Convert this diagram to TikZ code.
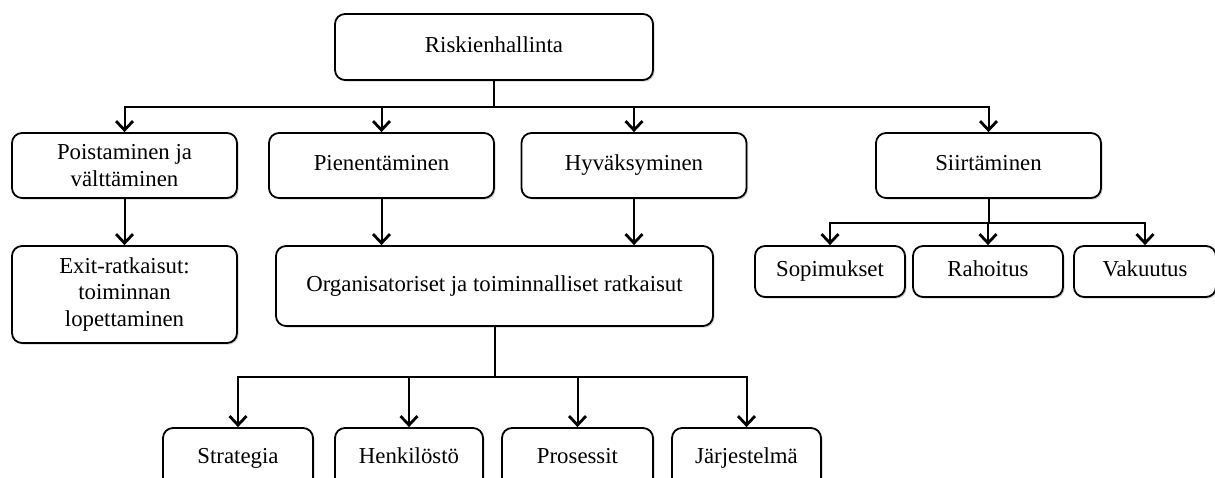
\documentclass[tikz,border=0pt]{standalone}
\usepackage{fontspec}
\setmainfont{Liberation Serif}
\usetikzlibrary{arrows.meta, shadows}

\begin{document}
\begin{tikzpicture}[
            x = 0.5pt, y = -0.5pt, % one unit per pixel, y runs down
            > = {Straight Barb[length=4.5pt, width=8.5pt, line width=1.4pt]}, % open arrow head
            font = \fontsize{11.4}{13.2}\selectfont
        ]
        \useasboundingbox (0,0) rectangle (1215,477);
        \clip (0,0) rectangle (1215,477);

        \tikzstyle{box}=[
            draw = black,
            line width = 0.9pt,
            rounded corners = 5pt,
            fill = white,
            drop shadow = {shadow xshift=0.8pt, shadow yshift=-0.8pt, opacity=0.35},
            align = center,
            text height = 0.72em, % same baseline in every box
            text depth = 0.22em,
            inner sep = 0pt
        ]
        \tikzstyle{multi}=[text height = {}, text depth = {}]
        \tikzstyle{link}=[->, line width = 1pt]

        % top level
        \node[box, minimum width=159pt, minimum height=33pt] (risk) at (494,47) {Riskienhallinta};

        % second level
        \tikzstyle{every node}=[minimum width=112.5pt, minimum height=32.5pt]
        \node[box, multi] (poist) at (124.5,165.5) {Poistaminen ja\\ välttäminen};
        \node[box] (pien) at (381.5,165.5) {Pienentäminen};
        \node[box] (hyv) at (634,165.5) {Hyväksyminen};
        \node[box] (siirt) at (988.5,165.5) {Siirtäminen};

        % third level
        \node[box, multi, minimum height=48.5pt] (exit) at (124.5,294.5) {Exit-ratkaisut:\\ toiminnan\\ lopettaminen};
        \node[box, minimum width=218.5pt, minimum height=40pt] (org) at (494.5,286) {Organisatoriset ja toiminnalliset ratkaisut};

        \tikzstyle{every node}=[minimum width=75pt, minimum height=25.5pt]
        \node[box] (sop) at (830,271.5) {Sopimukset};
        \node[box] (rah) at (988,271.5) {Rahoitus};
        \node[box, minimum width=71pt] (vak) at (1145,271.5) {Vakuutus};

        % bottom level
        \tikzstyle{every node}=[minimum width=75pt, minimum height=30pt]
        \node[box] (strat) at (238,458) {Strategia};
        \node[box, minimum width=74pt] (henk) at (409,458) {Henkilöstö};
        \node[box, minimum width=75.5pt] (pros) at (577.5,458) {Prosessit};
        \node[box, minimum width=74.5pt] (jarj) at (746.5,458) {Järjestelmä};

        \draw[line width=1.4pt] (risk.south) -- ++(0,26) coordinate (bus);
        \foreach \n in {poist,pien,hyv,siirt}
            \draw[link] (bus) -| (\n.north);

        \draw[link] (poist) -- (exit);
        \draw[link] (pien.south) -- (pien.south |- org.north);
        \draw[link] (hyv.south) -- (hyv.south |- org.north);

        \draw[line width=1pt] (siirt.south) -- ++(0,24) coordinate (sbus);
        \foreach \n in {sop,rah,vak}
            \draw[link] (sbus) -| (\n.north);

        \draw[line width=1pt] (org.south) -- ++(0,50) coordinate (obus);
        \foreach \n in {strat,henk,pros,jarj}
            \draw[link] (obus) -| (\n.north);
    \end{tikzpicture}
\end{document}
